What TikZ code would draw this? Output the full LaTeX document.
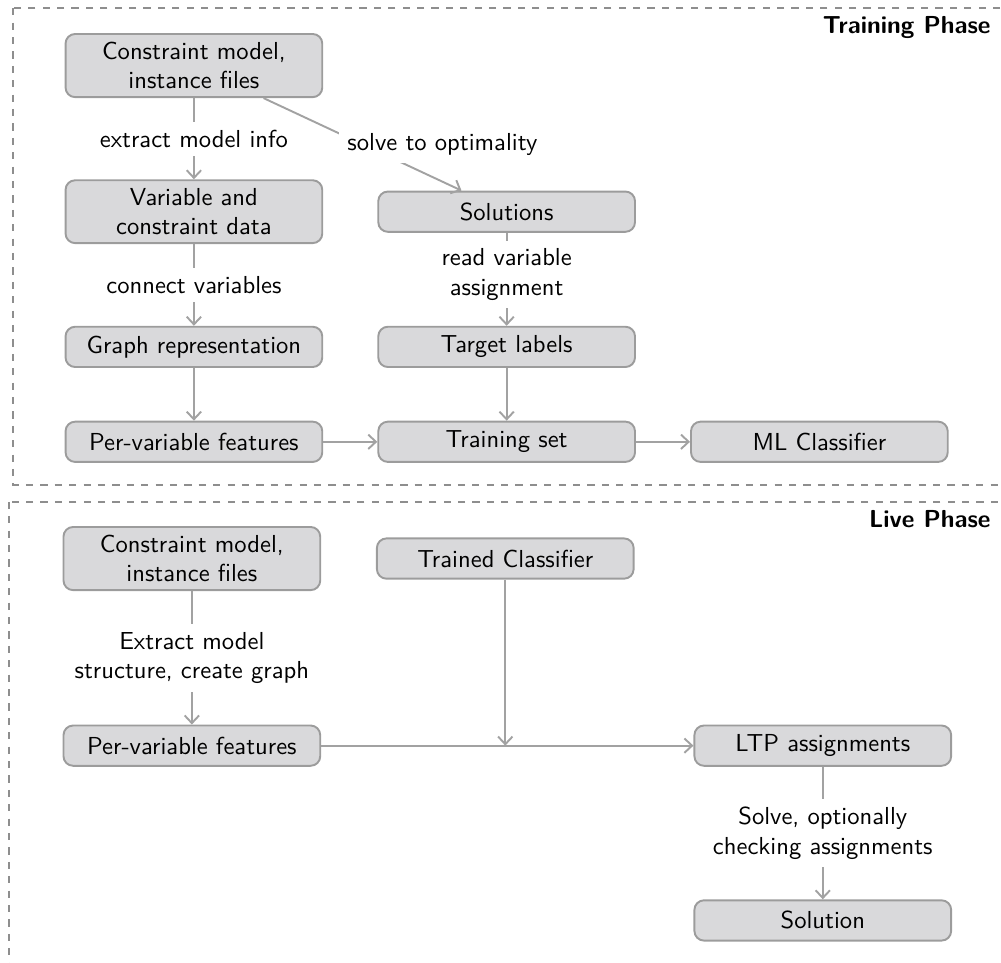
\documentclass[tikz,border=0pt]{standalone}
\usepackage{tikz}
\usetikzlibrary{positioning,arrows.meta,calc}
\definecolor{stagefill}{HTML}{D9D9DB}
\definecolor{stageline}{HTML}{9C9C9C}
\definecolor{flowgray}{HTML}{A2A2A2}
\definecolor{phasegray}{HTML}{8E8E8E}
\newcommand{\figfont}{\sffamily\fontsize{10.25pt}{12.3pt}\selectfont}
\tikzset{
  stage/.style={draw=stageline, fill=stagefill, thick, rounded corners, align=center,
                font=\figfont, minimum width=3.76cm, minimum height=0.59cm},
  flow/.style={-{Straight Barb[length=3.2pt,width=6pt]}, thick, draw=flowgray},
  note/.style={fill=white, align=center, font=\figfont},
  phase/.style={draw=phasegray, thick, dashed},
  phasetitle/.style={anchor=east, font=\figfont\bfseries},
}
\begin{document}
\begin{tikzpicture}
        \useasboundingbox (0,0) rectangle (14.66,-14.10);
        \clip (0,0) rectangle (14.66,-14.10);
        % the two phases
        \draw[phase] (0.19,-0.12) rectangle (15.2,-7.10);
        \draw[phase] (0.13,-7.35) rectangle (15.2,-14.6);
        \node[phasetitle] (trainT) at (14.63,-0.40) {Training Phase};
        \node[phasetitle] (liveT) at (14.63,-7.60) {Live Phase};

        % training
        \node[stage] (model) at (2.84,-0.96) {Constraint model,\\instance files};
        \node[stage] (vardata) at (2.84,-3.10) {Variable and\\constraint data};
        \node[stage] (graph) at (2.84,-5.08) {Graph representation};
        \node[stage] (feat) at (2.84,-6.47) {Per-variable features};
        \node[stage] (sols) at (7.42,-3.10) {Solutions};
        \node[stage] (labels) at (7.42,-5.08) {Target labels};
        \node[stage] (trainset) at (7.42,-6.47) {Training set};
        \node[stage] (mlc) at (12.00,-6.47) {ML Classifier};

        \draw[flow] (model) -- node[note] {extract model info} (vardata);
        \draw[flow] (model) -- node[note, xshift=1.17cm] {solve to optimality} (sols);
        \draw[flow] (vardata) -- node[note] {connect variables} (graph);
        \draw[flow] (graph) -- (feat);
        \draw[flow] (sols) -- node[note, pos=0.45] {read variable\\assignment} (labels);
        \draw[flow] (labels) -- (trainset);
        \draw[flow] (feat) -- (trainset);
        \draw[flow] (trainset) -- (mlc);

        % live
        \node[stage] (model2) at (2.81,-8.18) {Constraint model,\\instance files};
        \node[stage] (trained) at (7.40,-8.18) {Trained Classifier};
        \node[stage] (feat2) at (2.81,-10.92) {Per-variable features};
        \node[stage] (ltp) at (12.05,-10.92) {LTP assignments};
        \node[stage] (sol) at (12.05,-13.48) {Solution};
        \coordinate (merge) at (trained |- feat2);

        \draw[flow] (model2) -- node[note] {Extract model\\structure, create graph} (feat2);
        \draw[flow] (feat2) -- (ltp);
        \draw[flow] (trained) -- (merge);
        \draw[flow] (ltp) -- node[note] {Solve, optionally\\checking assignments} (sol);
      \end{tikzpicture}
\end{document}
